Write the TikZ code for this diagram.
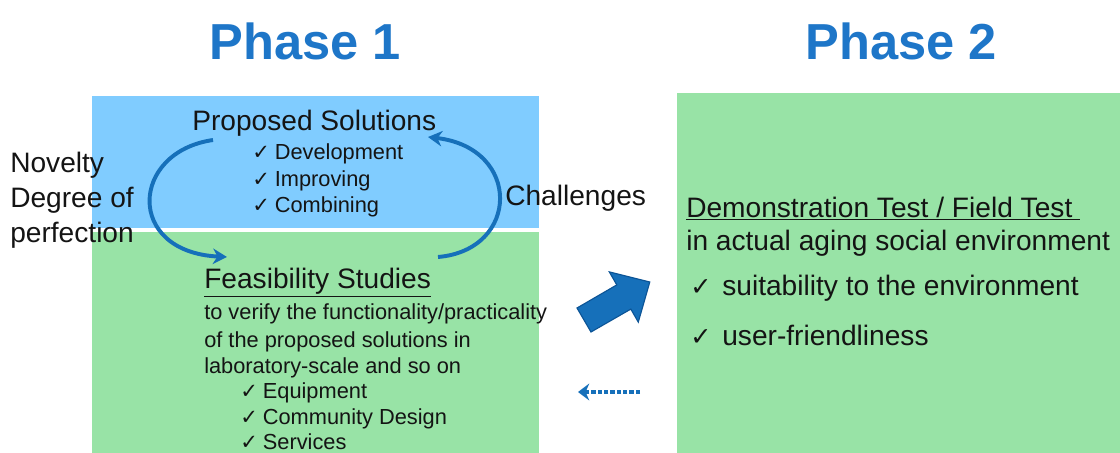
\documentclass[tikz,border=0pt]{standalone}
\usepackage{fontspec}
\setmainfont{Liberation Sans}
\newfontfamily\checkfont{DejaVu Sans}
\usetikzlibrary{arrows.meta}

\definecolor{boxblue}{RGB}{128,204,255}
\definecolor{boxgreen}{RGB}{152,227,166}
\definecolor{titleblue}{RGB}{30,118,200}
\definecolor{arrowblue}{RGB}{22,112,186}
\definecolor{arrowedge}{RGB}{12,84,150}
\definecolor{txtgray}{RGB}{20,20,20}

\newcommand{\tick}[1]{{\checkfont\fontsize{#1}{#1}\selectfont ✓}}

\begin{document}
\begin{tikzpicture}[x=0.025cm,y=-0.025cm,
  lbl/.style={inner sep=0pt, anchor=base west, text=txtgray, font=\fontsize{20}{24}\selectfont},
  sml/.style={inner sep=0pt, anchor=base west, text=txtgray, font=\fontsize{15.5}{19}\selectfont},
  ttl/.style={inner sep=0pt, anchor=base, text=titleblue, font=\fontsize{36}{40}\selectfont\bfseries},
  cyclearrow/.style={arrowblue, line width=2.8pt, -{Stealth[length=10pt,width=11pt]}},
  backarrow/.style={arrowblue, line width=2.8pt, dash pattern=on 3pt off 1.5pt, -{Stealth[length=8pt,width=12pt]}}]

 \useasboundingbox (0,0) rectangle (1120,453);

 % boxes
 \fill[boxblue]  (92,96)  rectangle (539,228);
 \fill[boxgreen] (92,232) rectangle (539,453);
 \fill[boxgreen] (677,93) rectangle (1120,453);

 % titles
 \node[ttl] (phaseA) at (305,60) {Phase 1};
 \node[ttl] (phaseB) at (901,60) {Phase 2};

 % cycle
 \coordinate (propL) at (213,140);
 \coordinate (feasL) at (227,257);
 \coordinate (feasR) at (438,257);
 \coordinate (propR) at (428,137);
 \draw[cyclearrow] (propL) .. controls (130,152) and (125,252) .. (feasL);
 \draw[cyclearrow] (feasR) .. controls (520,250) and (522,148) .. (propR);

 % left side labels
 \node[lbl] (novelty) at (10,173) {Novelty};
 \node[lbl] (degree)  at (10,207) {Degree of};
 \node[lbl] (perfect) at (10,242) {perfection};
 \node[lbl] (challenge) at (505,205) {Challenges};

 % proposed solutions
 \node[lbl] (propose) at (192,131) {Proposed Solutions};
 \node[sml] (develop) at (252,160) {\tick{15}\hspace{3.5pt}Development};
 \node[sml] (improve) at (252,186) {\tick{15}\hspace{3.5pt}Improving};
 \node[sml] (combine) at (252,212) {\tick{15}\hspace{3.5pt}Combining};

 % feasibility studies
 \node[lbl] (feasible) at (204,288) {\underline{Feasibility Studies}};
 \node[sml] (verifyA) at (204,319) {to verify the functionality/practicality};
 \node[sml] (verifyB) at (204,347) {of the proposed solutions in};
 \node[sml] (verifyC) at (204,373) {laboratory-scale and so on};
 \node[sml] (equip)   at (240,398) {\tick{15}\hspace{3.5pt}Equipment};
 \node[sml] (commun)  at (240,424) {\tick{15}\hspace{3.5pt}Community Design};
 \node[sml] (service) at (240,449) {\tick{15}\hspace{3.5pt}Services};

 % arrows between phases
 \fill[arrowblue, draw=arrowedge, line width=0.8pt]
   (591,332) -- (577,308) -- (616.8,284.9) -- (609.3,271.9) -- (649.8,282)
   -- (638.3,322.1) -- (630.8,309.1) -- cycle;
 \coordinate (backS) at (640,392);
 \coordinate (backE) at (578,392);
 \draw[backarrow] (backS) -- (backE);

 % demonstration test
 \node[lbl] (demo)   at (686,217) {\underline{Demonstration Test / Field Test\ }};
 \node[lbl] (actual) at (686,250) {in actual aging social environment};
 \node[lbl] (suit)   at (690,295) {\tick{18}\hspace{7.7pt}suitability to the environment};
 \node[lbl] (user)   at (690,345) {\tick{18}\hspace{7.7pt}user-friendliness};

\end{tikzpicture}
\end{document}
